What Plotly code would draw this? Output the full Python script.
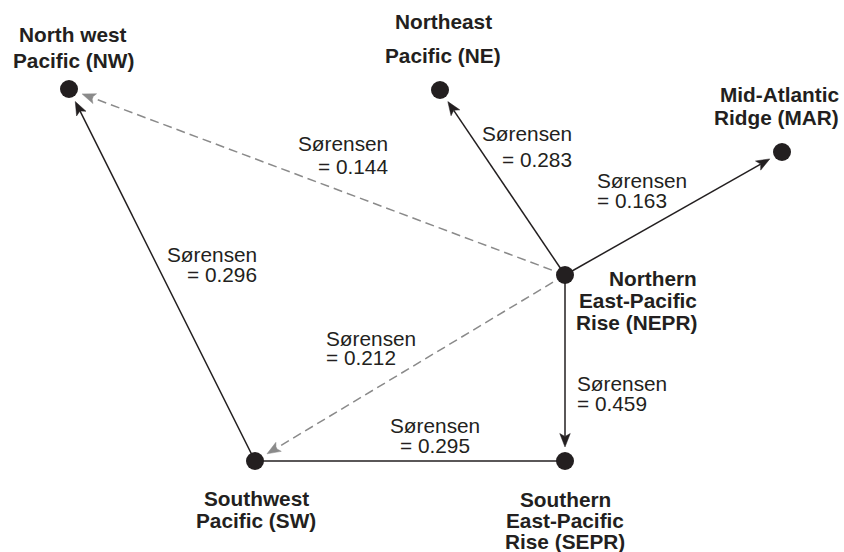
import math
import plotly.graph_objects as go

# ---------------- data ----------------
node_ids = ["NW", "NE", "MAR", "NEPR", "SW", "SEPR"]
node_x = [69, 440, 782, 565, 255, 565]
node_y = [89, 90, 152, 275, 461, 461]
node_label_lines = {
    "NW": ["North west", "Pacific (NW)"],
    "NE": ["Northeast", "Pacific (NE)"],
    "MAR": ["Mid-Atlantic", "Ridge (MAR)"],
    "NEPR": ["Northern", "East-Pacific", "Rise (NEPR)"],
    "SW": ["Southwest", "Pacific (SW)"],
    "SEPR": ["Southern", "East-Pacific", "Rise (SEPR)"],
}

edge_from = ["NEPR", "NEPR", "NEPR", "NEPR", "NEPR", "SW", "SW"]
edge_to = ["NW", "NE", "MAR", "SEPR", "SW", "NW", "SEPR"]
sorensen = [0.144, 0.283, 0.163, 0.459, 0.212, 0.296, 0.295]

# ---------------- styles ----------------
BLACK = "#231f20"
GRAY = "#8a8a8a"
FONT = "Liberation Sans, Arial, sans-serif"
FS = 20.8
W, H = 844, 552

edge_dashed = [True, False, False, False, True, False, False]
edge_arrow = [True, True, True, True, True, True, False]

# label placement: (x anchor, xanchor, baselines)
node_label_pos = {
    "NW": (73, "center", [42, 68]),
    "NE": (443, "center", [29, 63]),
    "MAR": (839, "right", [102, 124.5]),
    "NEPR": (697, "right", [286, 307.5, 329.5]),
    "SW": (256, "center", [506, 527.5]),
    "SEPR": (565, "center", [507, 527.5, 549]),
}
edge_label_pos = [
    (388, "right", [151, 174]),     # 0.144
    (572, "right", [141, 167]),     # 0.283
    (597, "left", [188, 208]),      # 0.163
    (577, "left", [391, 411]),      # 0.459
    (326, "left", [346, 364.5]),    # 0.212
    (257, "right", [262, 282]),     # 0.296
    (435, "center", [433, 453]),    # 0.295
]

GAP = 14.0   # distance from node centre to arrow tip
AL = 13.5    # arrowhead length
AW = 10.5    # arrowhead width
NOTCH = 3.0  # notch depth

pos = {n: (x, y) for n, x, y in zip(node_ids, node_x, node_y)}

fig = go.Figure()

for i, (a, b) in enumerate(zip(edge_from, edge_to)):
    x0, y0 = pos[a]
    x1, y1 = pos[b]
    dx, dy = x1 - x0, y1 - y0
    d = math.hypot(dx, dy)
    ux, uy = dx / d, dy / d
    nx, ny = -uy, ux
    col = GRAY if edge_dashed[i] else BLACK
    if edge_arrow[i]:
        tx, ty = x1 - ux * GAP, y1 - uy * GAP
        bx, by = tx - ux * AL, ty - uy * AL
        mx, my = tx - ux * (AL - NOTCH), ty - uy * (AL - NOTCH)
        ex, ey = mx, my
    else:
        ex, ey = x1, y1
    fig.add_trace(go.Scatter(
        x=[x0, ex], y=[y0, ey], mode="lines",
        line=dict(color=col, width=1.5, dash="9px,5px" if edge_dashed[i] else "solid"),
        hoverinfo="skip", showlegend=False))
    if edge_arrow[i]:
        fig.add_trace(go.Scatter(
            x=[tx, bx + nx * AW / 2, mx, bx - nx * AW / 2, tx],
            y=[ty, by + ny * AW / 2, my, by - ny * AW / 2, ty],
            mode="lines", fill="toself", fillcolor=col,
            line=dict(color=col, width=0.5),
            hoverinfo="skip", showlegend=False))

fig.add_trace(go.Scatter(
    x=node_x, y=node_y, mode="markers",
    marker=dict(size=18, color=BLACK, line=dict(width=0)),
    hoverinfo="skip", showlegend=False))


def add_text(text, x, baseline, xanchor, bold):
    fig.add_annotation(
        x=x, y=baseline - 0.3465 * FS, xref="x", yref="y",
        text=f"<b>{text}</b>" if bold else text,
        showarrow=False, xanchor=xanchor, yanchor="middle",
        borderpad=0, borderwidth=0,
        font=dict(family=FONT, size=FS, color=BLACK))


for n in node_ids:
    x, xa, bases = node_label_pos[n]
    for line, b in zip(node_label_lines[n], bases):
        add_text(line, x, b, xa, True)

for i, v in enumerate(sorensen):
    x, xa, bases = edge_label_pos[i]
    for line, b in zip(["Sørensen", f"= {v:.3f}"], bases):
        add_text(line, x, b, xa, False)

fig.update_layout(
    width=W, height=H,
    margin=dict(l=0, r=0, t=0, b=0),
    paper_bgcolor="white", plot_bgcolor="white",
    xaxis=dict(range=[0, W], visible=False, fixedrange=True),
    yaxis=dict(range=[H, 0], visible=False, fixedrange=True),
    showlegend=False,
)

fig.write_html(
    "out.html",
    config={"displayModeBar": False, "staticPlot": True},
    post_script="document.body.style.margin='0';document.body.style.overflow='hidden';",
)
